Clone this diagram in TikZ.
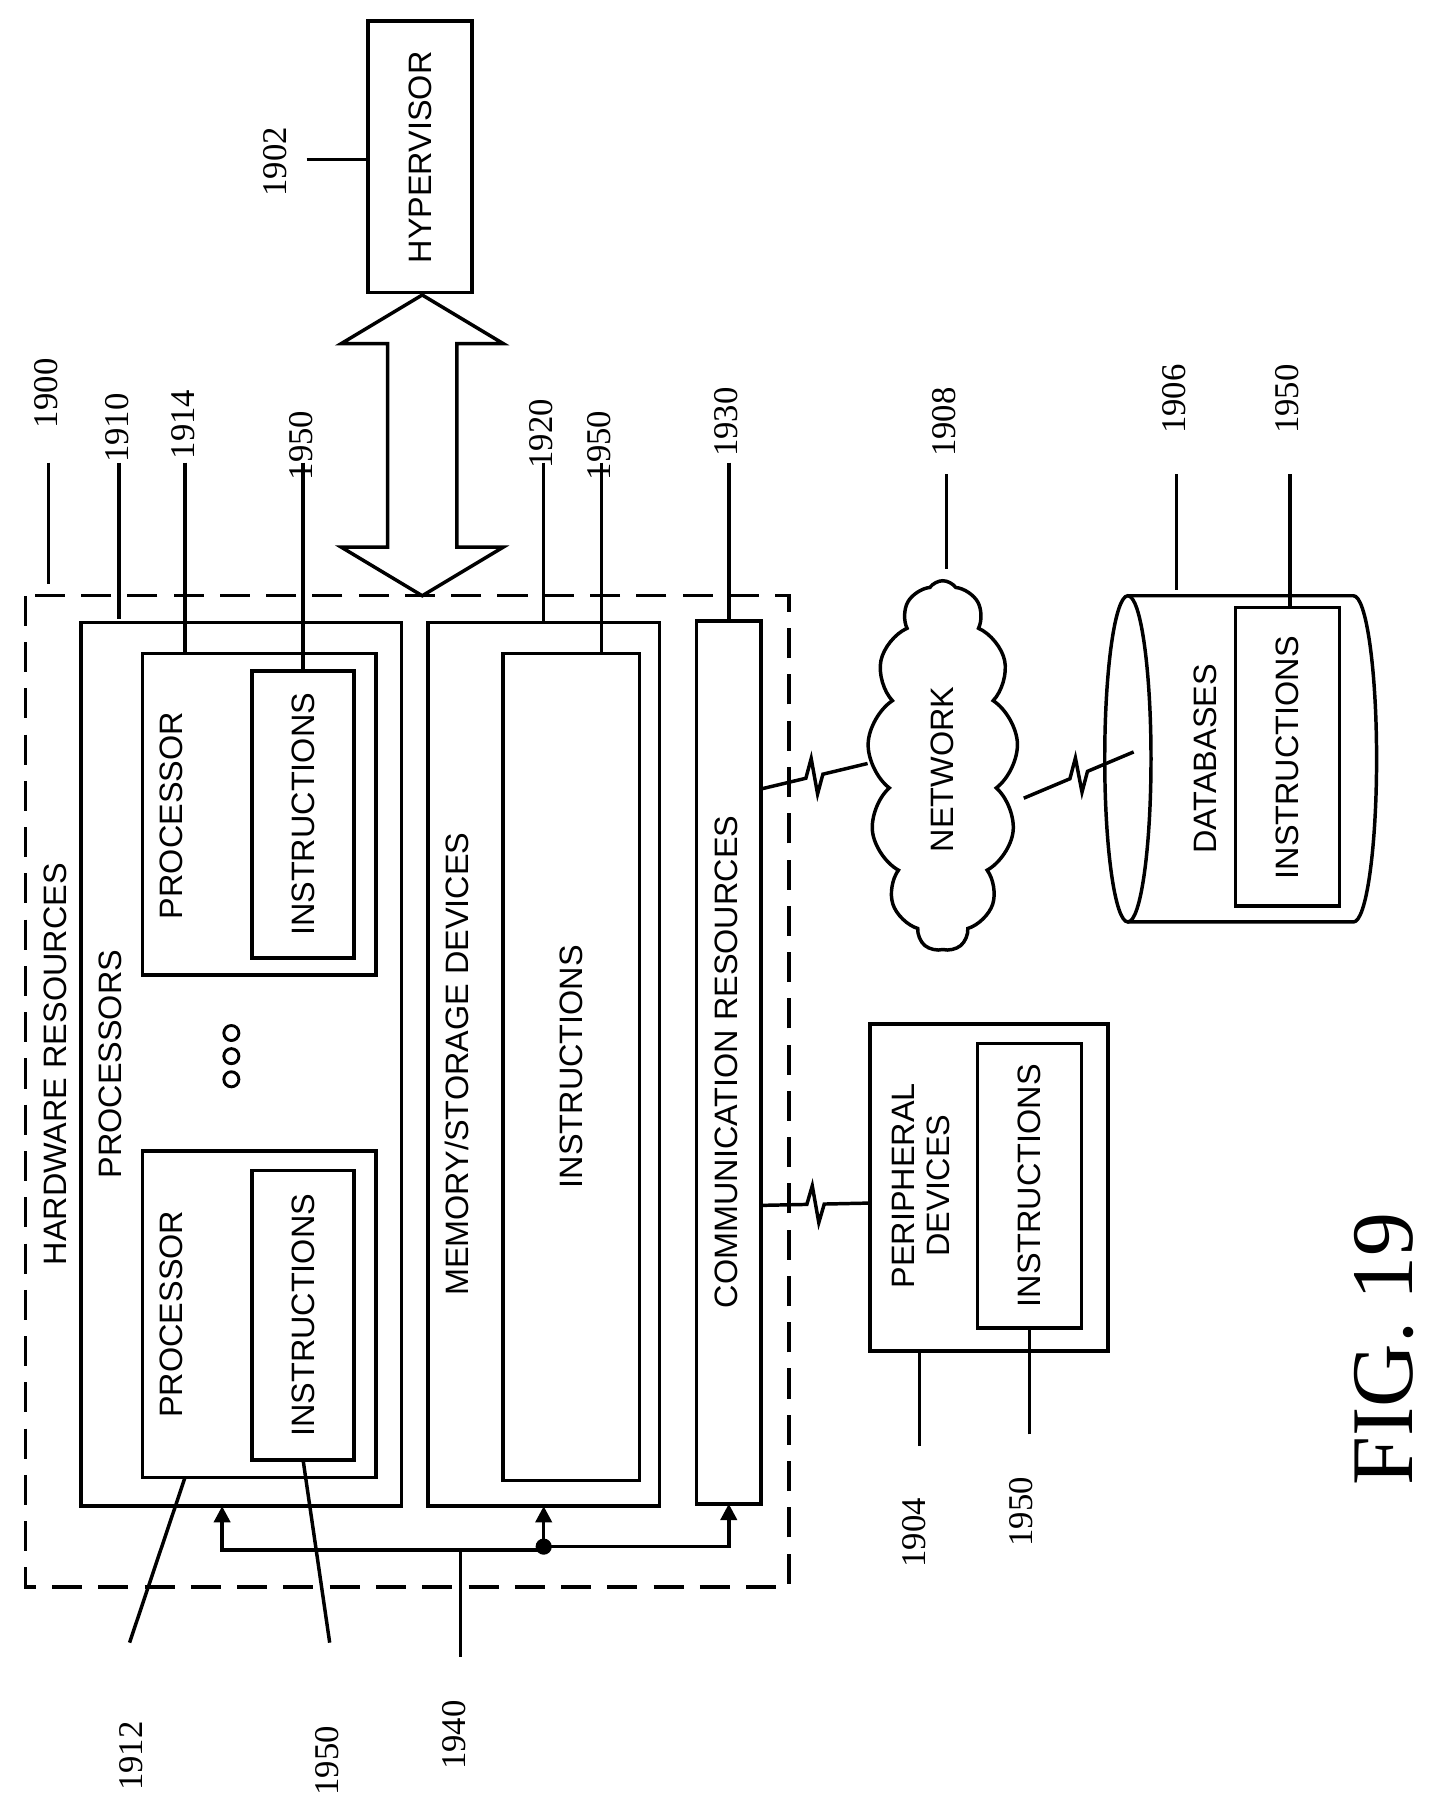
\documentclass[tikz,border=0pt]{standalone}
\usepackage{fontspec}
\setmainfont{Liberation Sans}
\newfontfamily\numf{Liberation Serif}
\usetikzlibrary{calc,shapes.symbols,arrows.meta}
\begin{document}
\begin{tikzpicture}[x=1pt,y=-1pt,line width=3pt,
 box/.style={draw,line width=3pt},
 txt/.style={rotate=90,font=\fontsize{28}{30}\selectfont,inner sep=0,align=center},
 num/.style={rotate=90,font=\numf\fontsize{30}{32}\selectfont,inner sep=0},
 tip/.style={-{Triangle[length=14pt,width=14pt]}}]
\useasboundingbox (0,0) rectangle (1240,1569);
% outer
\draw[dashed,dash pattern=on 26pt off 14pt] (22,515) rectangle (682,1372);
\node[txt] (hw) at (48,920) {HARDWARE RESOURCES};
\draw (70,538) rectangle (347,1302);
\node[txt] (procs) at (95,920) {PROCESSORS};
% processors
\draw (123,565) rectangle (325,843);
\node[txt] at (148,705) {PROCESSOR};
\draw (218,580) rectangle (306,828);
\node[txt] at (262,704) {INSTRUCTIONS};
\draw (123,995) rectangle (325,1277);
\node[txt] at (148,1136) {PROCESSOR};
\draw (218,1012) rectangle (306,1262);
\node[txt] at (262,1137) {INSTRUCTIONS};
\foreach \y in {893,913,933} \draw[line width=2.5pt] (200,\y) circle (6.5);
% memory
\draw (370,538) rectangle (570,1302);
\node[txt] at (395,920) {MEMORY/STORAGE DEVICES};
\draw (435,565) rectangle (553,1280);
\node[txt] at (494,922) {INSTRUCTIONS};
% comm
\draw (602,537) rectangle (658,1300);
\node[txt] at (628,918) {COMMUNICATION RESOURCES};
% bus
\coordinate (bj) at (470,1337);
\draw (398,1432) -- (398,1340);
\draw[tip] (470,1340) -- (192,1340) -- (192,1302);
\draw[tip] (bj) -- (470,1302);
\draw[tip] (bj) -- (630,1337) -- (630,1300);
\fill (bj) circle (7);
% hypervisor
\draw (318,18) rectangle (408,253);
\node[txt] at (363,136) {HYPERVISOR};
\draw (365,255) -- (435,297) -- (395,297) -- (395,473) -- (435,473) -- (365,515) -- (295,473) -- (335,473) -- (335,297) -- (295,297) -- cycle;
% network
\node[cloud,draw,line width=3pt,cloud puffs=13,cloud puff arc=110,minimum width=130pt,minimum height=320pt,aspect=0.4,inner sep=0] (net) at (815,662) {};
\node[txt] at (815,665) {NETWORK};
% database
\draw (975,515) -- (1170,515) arc[start angle=-90,end angle=90,x radius=20,y radius=141] -- (975,797);
\draw (975,656) ellipse [x radius=20,y radius=141];
\node[txt] at (1042,656) {DATABASES};
\draw (1068,525) rectangle (1158,783);
\node[txt] at (1113,655) {INSTRUCTIONS};
% peripheral
\draw (752,885) rectangle (958,1168);
\node[txt] at (796,1025) {PERIPHERAL\\DEVICES};
\draw (845,902) rectangle (935,1148);
\node[txt] at (890,1025) {INSTRUCTIONS};
% lightning
\foreach \a/\b in {{658,682}/{750,660},{885,690}/{980,650},{658,1042}/{752,1040}}{
 \draw ($(\a)$) -- ($(\a)!.42!(\b)$) -- ($(\a)!.47!(\b)+(0,-16)$) -- ($(\a)!.53!(\b)+(0,16)$) -- ($(\a)!.58!(\b)$) -- ($(\b)$);}
% labels
\foreach \x/\ya/\yb/\ny/\t in {42/400/505/340/1900,103/400/535/370/1910,160/400/565/367/1914,262/400/580/385/1950,470/400/538/375/1920,520/400/565/385/1950,630/400/537/365/1930,818/410/492/365/1908,1017/410/510/345/1906,1115/410/525/345/1950}
{\draw (\x,\ya) -- (\x,\yb); \node[num] at (\x-2,\ny) {\t};}
\draw (265,138) -- (318,138); \node[num] at (238,140) {1902};
\draw (112,1420) -- (160,1277); \node[num] at (113,1518) {1912};
\draw (285,1420) -- (262,1262); \node[num] at (283,1522) {1950};
\node[num] at (393,1500) {1940};
\draw (795,1250) -- (795,1168); \node[num] at (790,1325) {1904};
\draw (890,1240) -- (890,1148); \node[num] at (883,1307) {1950};
\node[rotate=90,font=\numf\fontsize{76}{78}\selectfont,inner sep=0] at (1196,1166) {FIG. 19};
\end{tikzpicture}
\end{document}
